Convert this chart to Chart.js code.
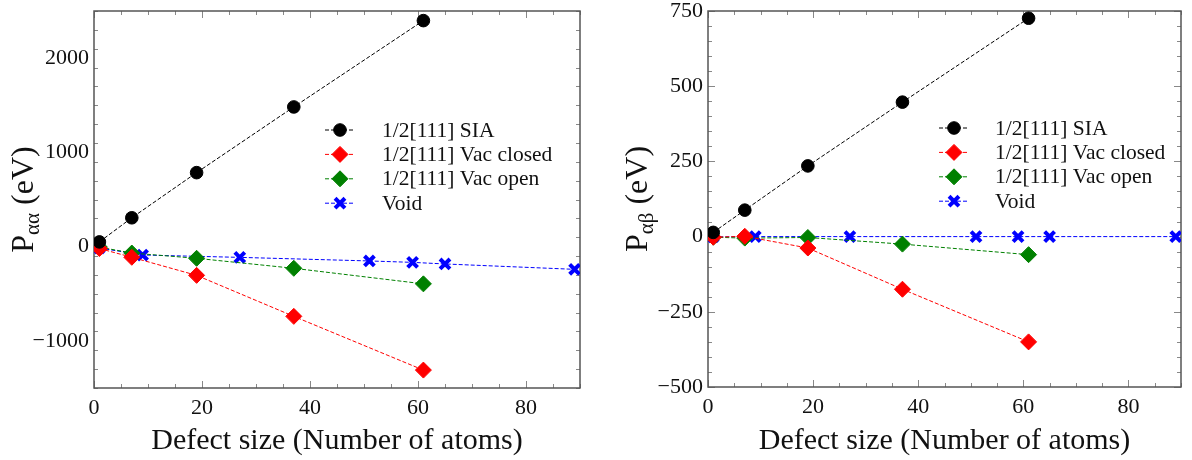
<!DOCTYPE html>
<html>
<head>
<meta charset="utf-8">
<script src="https://cdn.jsdelivr.net/npm/chart.js@4.4.0/dist/chart.umd.min.js"></script>
<style>
  html, body { margin: 0; padding: 0; background: #fff; }
  #wrap { position: relative; width: 1192px; height: 460px; font-family: 'Liberation Serif', serif; }
  canvas { position: absolute; top: 0; }
</style>
</head>
<body>
<div id="wrap">
  <canvas id="chartAA" width="596" height="460" style="left:0px"></canvas>
  <canvas id="chartAB" width="596" height="460" style="left:596px"></canvas>
</div>
<script>
// Données
const siaSizes = [1, 7, 19, 37, 61];
const vacSizes = [1, 7, 19, 37, 61];
const voidSizes = [1, 9, 27, 51, 59, 65, 89];

// P_aa (eV)
const aaSia = [50, 306, 785, 1482, 2398];
const aaVacClosed = [-20, -113, -305, -740, -1310];
const aaVacOpen = [-5, -68, -124, -230, -395];
const aaVoid = [-15, -89, -114, -152, -167, -184, -241];

// P_ab (eV)
const abSia = [14, 88, 235, 447, 726];
const abVacClosed = [-2, 1, -38, -175, -350];
const abVacOpen = [-2, -5, -3, -25, -60];
const abVoid = [-1, 0, 0, 0, 0, 0, 0];

const seriesNames = ['1/2[111] SIA', '1/2[111] Vac closed', '1/2[111] Vac open', 'Void'];
const xTicks = [0, 20, 40, 60, 80];
const aaTicks = [-1000, 0, 1000, 2000];
const abTicks = [-500, -250, 0, 250, 500, 750];

const SERIF = '"Liberation Serif"';
const TEXT = '#111';

const seriesStyles = [
    { color: '#000000', pointStyle: 'circle', radius: 6.3, borderWidth: 1 },
    { color: '#ff0000', pointStyle: 'rectRot', radius: 8, borderWidth: 1 },
    { color: '#008000', pointStyle: 'rectRot', radius: 8, borderWidth: 1 },
    { color: '#0000ff', pointStyle: 'crossRot', radius: 7, borderWidth: 4 }
];

function toPoints(xs, ys) {
    return xs.map((x, i) => ({ x: x, y: ys[i] }));
}

function makeDatasets(sia, closed, open, voids) {
    const sets = [
        toPoints(siaSizes, sia),
        toPoints(vacSizes, closed),
        toPoints(vacSizes, open),
        toPoints(voidSizes, voids)
    ];
    return sets.map((data, i) => {
        const st = seriesStyles[i];
        return {
            label: seriesNames[i],
            data: data,
            borderColor: st.color,
            backgroundColor: st.color,
            borderWidth: 1,
            borderDash: [4, 2],
            tension: 0,
            pointStyle: st.pointStyle,
            pointRadius: st.radius,
            pointBorderWidth: st.borderWidth,
            pointBackgroundColor: st.color,
            pointBorderColor: st.color
        };
    });
}

// Cadre, graduations internes, titres et légende
const framePlugin = {
    id: 'frame',
    beforeDatasetsDraw(chart, args, opts) {
        const { ctx, chartArea: a, scales: { x, y } } = chart;
        ctx.save();
        ctx.strokeStyle = '#888';
        ctx.lineWidth = 1;
        ctx.beginPath();
        for (let v = x.min; v <= x.max + 1e-9; v += opts.minorX) {
            const px = Math.round(x.getPixelForValue(v)) + 0.5;
            const len = xTicks.includes(v) ? 7 : 4;
            ctx.moveTo(px, a.bottom); ctx.lineTo(px, a.bottom - len);
            ctx.moveTo(px, a.top); ctx.lineTo(px, a.top + len);
        }
        for (let v = y.min; v <= y.max + 1e-9; v += opts.minorY) {
            const py = Math.round(y.getPixelForValue(v)) + 0.5;
            const len = opts.yTicks.includes(v) ? 7 : 4;
            ctx.moveTo(a.left, py); ctx.lineTo(a.left + len, py);
            ctx.moveTo(a.right, py); ctx.lineTo(a.right - len, py);
        }
        ctx.stroke();
        ctx.strokeStyle = '#555';
        ctx.lineWidth = 1.5;
        ctx.strokeRect(a.left, a.top, a.right - a.left, a.bottom - a.top);
        ctx.restore();
    },
    afterDraw(chart, args, opts) {
        const { ctx, chartArea: a } = chart;
        ctx.save();
        ctx.fillStyle = TEXT;

        // titre de l'axe x
        ctx.font = '30px ' + SERIF;
        ctx.textAlign = 'center';
        ctx.textBaseline = 'middle';
        ctx.fillText('Defect size (Number of atoms)', (a.left + a.right) / 2, 441);

        // titre de l'axe y avec indice
        ctx.translate(opts.yTitleX, (a.top + a.bottom) / 2);
        ctx.rotate(-Math.PI / 2);
        ctx.textAlign = 'left';
        ctx.textBaseline = 'alphabetic';
        const mainFont = '32px ' + SERIF;
        const subFont = '21px ' + SERIF;
        ctx.font = mainFont;
        const wP = ctx.measureText('P').width;
        const wTail = ctx.measureText(' (eV)').width;
        ctx.font = subFont;
        const wSub = ctx.measureText(opts.sub).width;
        let tx = -(wP + wSub + wTail) / 2;
        ctx.font = mainFont;
        ctx.fillText('P', tx, 0);
        tx += wP;
        ctx.font = subFont;
        ctx.fillText(opts.sub, tx, 6);
        tx += wSub;
        ctx.font = mainFont;
        ctx.fillText(' (eV)', tx, 0);
        ctx.setTransform(1, 0, 0, 1, 0, 0);

        // légende
        ctx.font = '21.5px ' + SERIF;
        ctx.textAlign = 'left';
        ctx.textBaseline = 'middle';
        seriesNames.forEach((name, i) => {
            const st = seriesStyles[i];
            const ly = opts.legendY + i * 24.4;
            ctx.strokeStyle = st.color;
            ctx.lineWidth = 1;
            ctx.setLineDash([4, 2]);
            ctx.beginPath();
            ctx.moveTo(opts.legendX - 15, ly);
            ctx.lineTo(opts.legendX + 15, ly);
            ctx.stroke();
            ctx.setLineDash([]);
            ctx.fillStyle = st.color;
            ctx.lineWidth = st.borderWidth;
            Chart.helpers.drawPoint(ctx, {
                pointStyle: st.pointStyle,
                radius: st.radius,
                rotation: 0,
                borderWidth: st.borderWidth
            }, opts.legendX, ly);
            ctx.fillStyle = TEXT;
            ctx.fillText(name, opts.legendX + opts.textGap, ly + 1);
        });
        ctx.restore();
    }
};

function formatTick(v) {
    return (v < 0 ? '\u2212' : '') + Math.abs(v);
}

function createPanel(canvasId, datasets, cfg) {
    const canvas = document.getElementById(canvasId);
    const ctx = canvas.getContext('2d');
    return new Chart(ctx, {
        type: 'line',
        data: { datasets: datasets },
        options: {
            responsive: false,
            animation: false,
            events: [],
            layout: { padding: { top: 9, right: cfg.padRight, left: 0, bottom: 0 } },
            plugins: {
                legend: { display: false },
                tooltip: { enabled: false },
                frame: cfg.frame
            },
            scales: {
                x: {
                    type: 'linear',
                    min: 0,
                    max: 90,
                    afterBuildTicks: s => { s.ticks = xTicks.map(v => ({ value: v })); },
                    afterFit: s => {
                        s.height = cfg.xHeight;
                        s.paddingLeft = 0;
                        s.paddingRight = 0;
                    },
                    grid: { display: false, drawTicks: false },
                    border: { display: false },
                    ticks: {
                        padding: 7,
                        maxRotation: 0,
                        autoSkip: false,
                        color: TEXT,
                        font: { family: SERIF, size: 22 },
                        callback: formatTick
                    }
                },
                y: {
                    type: 'linear',
                    min: cfg.yMin,
                    max: cfg.yMax,
                    afterBuildTicks: s => { s.ticks = cfg.yTicks.map(v => ({ value: v })); },
                    afterFit: s => {
                        s.width = cfg.yWidth;
                        s.paddingTop = 0;
                        s.paddingBottom = 0;
                    },
                    grid: { display: false, drawTicks: false },
                    border: { display: false },
                    ticks: {
                        padding: 5,
                        autoSkip: false,
                        color: TEXT,
                        font: { family: SERIF, size: 22 },
                        callback: formatTick
                    }
                }
            }
        },
        plugins: [framePlugin]
    });
}

function initPanels() {
    createPanel('chartAA', makeDatasets(aaSia, aaVacClosed, aaVacOpen, aaVoid), {
        yMin: -1500, yMax: 2500, yTicks: aaTicks, yWidth: 94, xHeight: 72, padRight: 16,
        frame: { minorX: 5, minorY: 200, yTicks: aaTicks, sub: '\u03b1\u03b1', yTitleX: 33, legendX: 340, legendY: 130, textGap: 42 }
    });
    createPanel('chartAB', makeDatasets(abSia, abVacClosed, abVacOpen, abVoid), {
        yMin: -500, yMax: 750, yTicks: abTicks, yWidth: 112, xHeight: 73, padRight: 1,
        frame: { minorX: 5, minorY: 50, yTicks: abTicks, sub: '\u03b1\u03b2', yTitleX: 51, legendX: 358, legendY: 128, textGap: 41 }
    });
}

// attendre la police avant de dessiner
Promise.all([
    document.fonts.load('22px "Liberation Serif"'),
    document.fonts.load('32px "Liberation Serif"', '\u03b1\u03b2')
]).then(initPanels, initPanels);
</script>
</body>
</html>
